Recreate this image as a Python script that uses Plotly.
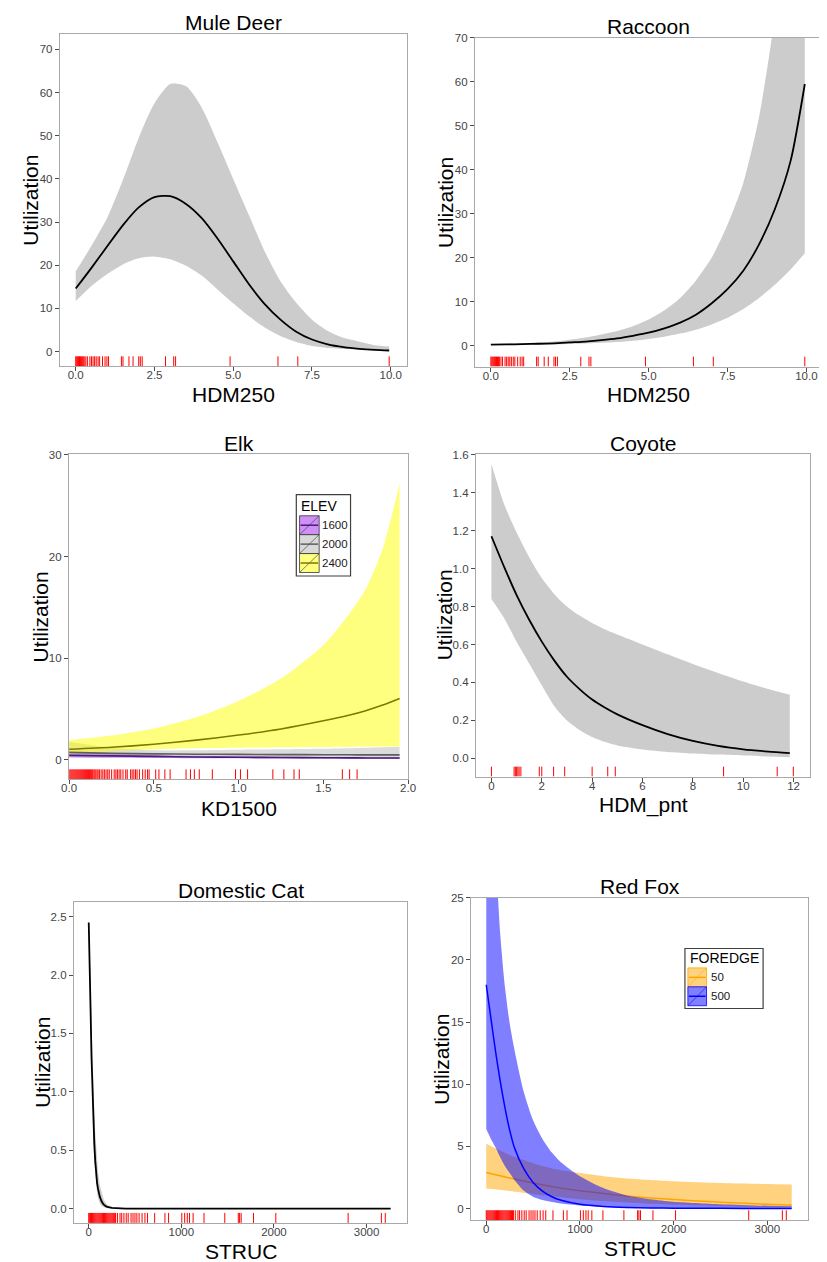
import plotly.graph_objects as go

W, H = 827, 1262
FONT = "Liberation Sans, Arial, sans-serif"

# ---------------- data ----------------
# Mule Deer (HDM250)
deer_x = [0.0, 0.5, 1.0, 1.5, 2.0, 2.5, 3.0, 3.5, 4.0, 4.5, 5.0, 5.5, 6.0, 6.5, 7.0, 7.5, 8.0, 8.5, 9.0, 9.5, 9.95]
deer_mean = [14.6, 19.4, 24.4, 29.3, 33.4, 35.8, 36.0, 34.2, 30.9, 26.2, 20.9, 15.6, 11.0, 7.4, 4.6, 2.8, 1.7, 1.05, 0.65, 0.4, 0.25]
deer_upper = [18.6, 24.5, 31.0, 39.8, 49.5, 57.5, 62.0, 61.5, 56.5, 48.5, 40.0, 31.6, 23.2, 16.3, 11.3, 7.4, 4.8, 3.2, 2.3, 1.5, 1.2]
deer_lower = [11.7, 15.2, 18.0, 20.2, 21.6, 22.0, 21.4, 19.9, 17.6, 14.4, 11.2, 8.2, 5.6, 3.6, 2.2, 1.3, 0.85, 0.6, 0.45, 0.35, 0.3]

# Raccoon (HDM250)
racc_x = [0.0, 0.5, 1.0, 1.5, 2.0, 2.5, 3.0, 3.5, 4.0, 4.5, 5.0, 5.5, 6.0, 6.5, 7.0, 7.5, 8.0, 8.5, 9.0, 9.5, 9.95]
racc_mean = [0.2, 0.25, 0.3, 0.4, 0.5, 0.7, 0.9, 1.2, 1.6, 2.2, 2.9, 3.9, 5.2, 7.0, 9.6, 12.8, 17.0, 23.0, 31.0, 42.0, 59.5]
racc_upper = [0.35, 0.4, 0.5, 0.65, 0.9, 1.3, 1.8, 2.5, 3.3, 4.4, 5.9, 8.0, 10.8, 14.8, 20.0, 27.5, 37.0, 52.0, 75.0, 110.0, 165.0]
racc_lower = [0.1, 0.12, 0.15, 0.2, 0.25, 0.35, 0.45, 0.6, 0.8, 1.1, 1.5, 2.0, 2.7, 3.6, 4.8, 6.3, 8.3, 10.8, 13.8, 17.3, 21.0]

hdm250_rug = [0.0, 0.03, 0.06, 0.09, 0.12, 0.15, 0.18, 0.21, 0.24, 0.27, 0.32, 0.37, 0.45, 0.50,
              0.55, 0.60, 0.65, 0.71, 0.76, 0.85, 0.93, 0.99, 1.04, 1.45, 1.50, 1.69, 1.82,
              2.00, 2.05, 2.11, 2.85, 3.11, 3.17, 4.90, 6.42, 7.05, 9.95]

# Elk (KD1500) by ELEV
elk_levels = ["1600", "2000", "2400"]
elk_x = [0.0, 0.25, 0.5, 0.75, 1.0, 1.25, 1.5, 1.65, 1.75, 1.85, 1.95]
elk1600_mean = [0.45, 0.4, 0.35, 0.3, 0.27, 0.24, 0.22, 0.21, 0.2, 0.2, 0.19]
elk1600_upper = [0.7, 0.6, 0.5, 0.42, 0.37, 0.33, 0.3, 0.29, 0.28, 0.27, 0.27]
elk1600_lower = [0.25, 0.22, 0.2, 0.18, 0.16, 0.14, 0.13, 0.12, 0.12, 0.11, 0.1]
elk2000_mean = [0.75, 0.65, 0.6, 0.57, 0.55, 0.53, 0.52, 0.51, 0.5, 0.5, 0.5]
elk2000_upper = [1.8, 1.2, 0.95, 0.95, 1.0, 1.05, 1.1, 1.15, 1.2, 1.25, 1.3]
elk2000_lower = [0.3, 0.3, 0.28, 0.26, 0.25, 0.24, 0.23, 0.22, 0.22, 0.21, 0.2]
elk2400_mean = [1.05, 1.25, 1.55, 1.95, 2.45, 3.05, 3.85, 4.4, 4.85, 5.4, 6.05]
elk2400_upper = [1.95, 2.4, 3.1, 4.2, 5.8, 8.0, 11.3, 14.3, 16.8, 20.8, 27.2]
elk2400_lower = [0.6, 0.85, 1.05, 1.15, 1.2, 1.25, 1.28, 1.3, 1.32, 1.33, 1.35]

kd1500_rug = [0.0, 0.006, 0.012, 0.018, 0.024, 0.03, 0.036, 0.042, 0.048, 0.054, 0.06, 0.066,
              0.072, 0.078, 0.084, 0.09, 0.096, 0.102, 0.108, 0.114, 0.12, 0.127, 0.133, 0.139,
              0.146, 0.152, 0.158, 0.165, 0.171, 0.179, 0.189, 0.199, 0.208, 0.218, 0.228, 0.237,
              0.251, 0.266, 0.276, 0.285, 0.295, 0.305, 0.318, 0.334, 0.343, 0.363, 0.372, 0.382,
              0.392, 0.401, 0.415, 0.434, 0.449, 0.463, 0.472, 0.511, 0.530, 0.565, 0.596, 0.690,
              0.716, 0.739, 0.768, 0.845, 0.982, 1.011, 1.053, 1.202, 1.267, 1.327, 1.358, 1.612,
              1.655, 1.699]

# Coyote (HDM_pnt)
coy_x = [0.0, 0.5, 1.0, 1.5, 2.0, 2.5, 3.0, 3.5, 4.0, 4.5, 5.0, 6.0, 7.0, 8.0, 9.0, 10.0, 11.0, 11.85]
coy_mean = [1.17, 1.01, 0.86, 0.73, 0.615, 0.515, 0.43, 0.365, 0.31, 0.268, 0.232, 0.175, 0.128, 0.092, 0.066, 0.048, 0.036, 0.028]
coy_upper = [1.55, 1.34, 1.19, 1.06, 0.95, 0.865, 0.80, 0.752, 0.713, 0.68, 0.652, 0.600, 0.548, 0.497, 0.450, 0.405, 0.365, 0.335]
coy_lower = [0.84, 0.74, 0.615, 0.50, 0.385, 0.275, 0.20, 0.15, 0.113, 0.087, 0.068, 0.047, 0.034, 0.026, 0.02, 0.015, 0.01, 0.006]
hdmpnt_rug = [0.0, 0.9, 0.95, 1.0, 1.05, 1.1, 1.17, 1.9, 2.0, 2.47, 2.91, 4.0, 4.62, 4.92, 9.22, 11.35, 11.99]

# Domestic Cat (STRUC)
cat_x = [0, 10, 20, 30, 40, 50, 60, 70, 80, 90, 100, 120, 140, 160, 180, 200, 250, 300, 400, 3260]
cat_mean = [2.45, 2.15, 1.70, 1.30, 1.00, 0.76, 0.56, 0.41, 0.30, 0.22, 0.17, 0.10, 0.06, 0.035, 0.022, 0.014, 0.005, 0.002, 0.0, 0.0]
cat_upper = [2.5, 2.3, 1.95, 1.6, 1.3, 1.05, 0.84, 0.66, 0.52, 0.41, 0.32, 0.2, 0.125, 0.08, 0.05, 0.032, 0.012, 0.005, 0.001, 0.0]
cat_lower = [2.4, 2.0, 1.5, 1.1, 0.8, 0.57, 0.4, 0.28, 0.19, 0.13, 0.09, 0.045, 0.022, 0.011, 0.006, 0.003, 0.001, 0.0, 0.0, 0.0]

struc_rug = [0, 10, 20, 30, 40, 50, 60, 70, 80, 90, 100, 110, 120, 130, 140, 150, 160, 170, 180,
             190, 200, 210, 220, 230, 240, 250, 260, 270, 280, 290, 310, 338, 356, 380, 405, 426,
             457, 478, 499, 520, 544, 576, 607, 635, 712, 823, 862, 1005, 1036, 1064, 1088, 1127,
             1245, 1469, 1615, 1629, 1646, 1779, 2020, 2801, 3160, 3202]

# Red Fox (STRUC) by FOREDGE
fox_levels = ["50", "500"]
fox50_x = [0, 250, 500, 750, 1000, 1250, 1500, 1750, 2000, 2250, 2500, 2750, 3000, 3260]
fox50_mean = [2.9, 2.45, 2.05, 1.7, 1.42, 1.2, 1.0, 0.85, 0.72, 0.61, 0.51, 0.42, 0.34, 0.27]
fox50_upper = [5.2, 4.3, 3.65, 3.15, 2.85, 2.6, 2.42, 2.3, 2.2, 2.12, 2.06, 2.01, 1.97, 1.93]
fox50_lower = [1.6, 1.4, 1.15, 0.95, 0.75, 0.6, 0.48, 0.38, 0.3, 0.24, 0.19, 0.15, 0.12, 0.1]
fox500_x = [0, 50, 100, 150, 200, 250, 300, 400, 500, 600, 700, 800, 1000, 1250, 1500, 1750, 2000, 2500, 3000, 3260]
fox500_mean = [18.0, 15.3, 12.6, 10.2, 8.1, 6.3, 4.9, 3.2, 2.1, 1.4, 0.95, 0.66, 0.34, 0.17, 0.09, 0.05, 0.03, 0.012, 0.006, 0.005]
fox500_upper = [45.0, 36.0, 28.5, 22.0, 17.8, 14.9, 12.8, 9.4, 7.1, 5.6, 4.5, 3.7, 2.6, 1.65, 1.05, 0.75, 0.55, 0.35, 0.22, 0.18]
fox500_lower = [6.4, 5.6, 4.9, 4.1, 3.4, 2.85, 2.3, 1.45, 0.95, 0.68, 0.52, 0.4, 0.25, 0.12, 0.06, 0.03, 0.02, 0.01, 0.005, 0.004]

# tick labels
ticks_hdm250 = [0, 2.5, 5, 7.5, 10]
labels_hdm250 = ["0.0", "2.5", "5.0", "7.5", "10.0"]
ticks_util70 = [0, 10, 20, 30, 40, 50, 60, 70]
ticks_kd = [0, 0.5, 1.0, 1.5, 2.0]
labels_kd = ["0.0", "0.5", "1.0", "1.5", "2.0"]
ticks_util30 = [0, 10, 20, 30]
ticks_pnt = [0, 2, 4, 6, 8, 10, 12]
ticks_coy_y = [0, 0.2, 0.4, 0.6, 0.8, 1.0, 1.2, 1.4, 1.6]
labels_coy_y = ["0.0", "0.2", "0.4", "0.6", "0.8", "1.0", "1.2", "1.4", "1.6"]
ticks_struc = [0, 1000, 2000, 3000]
ticks_cat_y = [0, 0.5, 1.0, 1.5, 2.0, 2.5]
labels_cat_y = ["0.0", "0.5", "1.0", "1.5", "2.0", "2.5"]
ticks_fox_y = [0, 5, 10, 15, 20, 25]

# ---------------- layout helpers ----------------
panels = {
    1: dict(px=(53, 407), py=(28, 362), xr=[-0.5, 10.52], yr=[-3.4, 73.6],
            xt=(ticks_hdm250, labels_hdm250), yt=(ticks_util70, [str(v) for v in ticks_util70]),
            title="Mule Deer", ty=17, xlabel="HDM250", xly=390.7, ylx=23, mirror_y=True),
    2: dict(px=(476.3, 827), py=(32, 362.3), xr=[-0.5, 10.40], yr=[-4.8, 70],
            xt=(ticks_hdm250, labels_hdm250), yt=(ticks_util70, [str(v) for v in ticks_util70]),
            title="Raccoon", ty=21, xlabel="HDM250", xly=390.7, ylx=446.3, mirror_y=False, tcx=653),
    3: dict(px=(62.3, 408), py=(450.3, 777), xr=[0, 2], yr=[-1.9, 30.07],
            xt=(ticks_kd, labels_kd), yt=(ticks_util30, [str(v) for v in ticks_util30]),
            title="Elk", ty=440, xlabel="KD1500", xly=806.7, ylx=33.3, mirror_y=True),
    4: dict(px=(477.3, 818), py=(450, 774.3), xr=[-0.61, 12.66], yr=[-0.096, 1.604],
            xt=(ticks_pnt, [str(v) for v in ticks_pnt]), yt=(ticks_coy_y, labels_coy_y),
            title="Coyote", ty=440, xlabel="HDM_pnt", xly=803, ylx=444.7, mirror_y=True),
    5: dict(px=(67.3, 407), py=(900, 1222.7), xr=[-159, 3438], yr=[-0.123, 2.628],
            xt=(ticks_struc, [str(v) for v in ticks_struc]), yt=(ticks_cat_y, labels_cat_y),
            title="Domestic Cat", ty=889, xlabel="STRUC", xly=1251.7, ylx=35, mirror_y=True),
    6: dict(px=(472.3, 816), py=(896, 1220), xr=[-161, 3436], yr=[-0.94, 25.0],
            xt=(ticks_struc, [str(v) for v in ticks_struc]), yt=(ticks_fox_y, [str(v) for v in ticks_fox_y]),
            title="Red Fox", ty=885, xlabel="STRUC", xly=1248.3, ylx=442.3, mirror_y=True),
}

fig = go.Figure()


def axn(k):
    return ("x" if k == 1 else f"x{k}", "y" if k == 1 else f"y{k}")


def add_band(k, x, lo, hi, fill, shape="spline"):
    xa, ya = axn(k)
    fig.add_trace(go.Scatter(x=x, y=lo, mode="lines", line=dict(width=0, shape=shape, smoothing=0.7),
                             hoverinfo="skip", showlegend=False, xaxis=xa, yaxis=ya))
    fig.add_trace(go.Scatter(x=x, y=hi, mode="lines", line=dict(width=0, shape=shape, smoothing=0.7),
                             fill="tonexty", fillcolor=fill, hoverinfo="skip", showlegend=False,
                             xaxis=xa, yaxis=ya))


def add_line(k, x, y, color, width=1.8, shape="spline"):
    xa, ya = axn(k)
    fig.add_trace(go.Scatter(x=x, y=y, mode="lines", line=dict(color=color, width=width, shape=shape, smoothing=0.7),
                             showlegend=False, xaxis=xa, yaxis=ya))


def add_rug(k, xs, length_px=10):
    xa, ya = axn(k)
    p = panels[k]
    yr = p["yr"]
    hpx = p["py"][1] - p["py"][0]
    y0 = yr[0]
    y1 = y0 + (yr[1] - yr[0]) * length_px / hpx
    xx, yy = [], []
    for v in xs:
        xx += [v, v, None]
        yy += [y0, y1, None]
    fig.add_trace(go.Scatter(x=xx, y=yy, mode="lines", line=dict(color="#FF0000", width=1),
                             hoverinfo="skip", showlegend=False, xaxis=xa, yaxis=ya))


GREY_FILL = "rgba(204,204,204,1)"

# Panel 1: Mule Deer
add_band(1, deer_x, deer_lower, deer_upper, GREY_FILL)
add_line(1, deer_x, deer_mean, "#000000")
add_rug(1, hdm250_rug)

# Panel 2: Raccoon
add_band(2, racc_x, racc_lower, racc_upper, GREY_FILL)
add_line(2, racc_x, racc_mean, "#000000")
add_rug(2, hdm250_rug)

# Panel 3: Elk
elk_fill = ["rgba(160,32,240,0.5)", "rgba(195,195,195,0.6)", "rgba(255,255,0,0.5)"]
elk_line = ["#4B1A7A", "#5E5E5E", "#7A7A00"]
elk_bands = [(elk1600_lower, elk1600_upper), (elk2000_lower, elk2000_upper), (elk2400_lower, elk2400_upper)]
elk_means = [elk1600_mean, elk2000_mean, elk2400_mean]
for (lo, hi), f in zip(elk_bands, elk_fill):
    add_band(3, elk_x, lo, hi, f)
for m, c in zip(elk_means, elk_line):
    add_line(3, elk_x, m, c, width=1.6)
add_rug(3, kd1500_rug)

# Panel 4: Coyote
add_band(4, coy_x, coy_lower, coy_upper, GREY_FILL)
add_line(4, coy_x, coy_mean, "#000000")
add_rug(4, hdmpnt_rug)

# Panel 5: Domestic Cat
add_band(5, cat_x, cat_lower, cat_upper, GREY_FILL, shape="linear")
add_line(5, cat_x, cat_mean, "#000000", shape="linear")
add_rug(5, struc_rug)

# Panel 6: Red Fox
fox_fill = ["rgba(255,165,0,0.5)", "rgba(0,0,255,0.5)"]
fox_line = ["#FFA500", "#0000FF"]
add_band(6, fox50_x, fox50_lower, fox50_upper, fox_fill[0])
add_line(6, fox50_x, fox50_mean, fox_line[0], width=1.5)
add_band(6, fox500_x, fox500_lower, fox500_upper, fox_fill[1])
add_line(6, fox500_x, fox500_mean, fox_line[1], width=1.5)
add_rug(6, struc_rug)

# ---------------- axes ----------------
layout = dict(width=W, height=H, margin=dict(l=0, r=0, t=0, b=0),
              paper_bgcolor="white", plot_bgcolor="white", showlegend=False,
              font=dict(family=FONT, color="#000000"))

annotations = []
shapes = []


def X(p):
    return p / W


def Y(p):
    return 1 - p / H


for k, p in panels.items():
    xa = "xaxis" if k == 1 else f"xaxis{k}"
    ya = "yaxis" if k == 1 else f"yaxis{k}"
    xd = [X(p["px"][0]), min(X(p["px"][1]), 1.0)]
    yd = [Y(p["py"][1]), Y(p["py"][0])]
    common = dict(showgrid=False, zeroline=False, showline=True, linecolor="#A9A9A9", linewidth=1.3,
                  ticks="outside", ticklen=4, tickwidth=1, tickcolor="#4D4D4D",
                  tickfont=dict(size=11.5, color="#444444", family=FONT), fixedrange=True)
    layout[xa] = dict(domain=xd, range=p["xr"], anchor=axn(k)[1], tickmode="array",
                      tickvals=p["xt"][0], ticktext=p["xt"][1], mirror=True,
                      ticklabelstandoff=-6, **common)
    layout[ya] = dict(domain=yd, range=p["yr"], anchor=axn(k)[0], tickmode="array",
                      tickvals=p["yt"][0], ticktext=p["yt"][1], mirror=p["mirror_y"], **common)
    cx = p.get("tcx", (p["px"][0] + p["px"][1]) / 2)
    cy = (p["py"][0] + p["py"][1]) / 2
    annotations.append(dict(text=p["title"], x=X(cx), y=Y(p["ty"]), xref="paper", yref="paper",
                            showarrow=False, xanchor="center", yanchor="middle",
                            font=dict(size=21, color="#000000", family=FONT)))
    annotations.append(dict(text=p["xlabel"], x=X(cx), y=Y(p["xly"]), xref="paper", yref="paper",
                            showarrow=False, xanchor="center", yanchor="middle",
                            font=dict(size=21, color="#000000", family=FONT)))
    annotations.append(dict(text="Utilization", x=X(p["ylx"]), y=Y(cy), xref="paper", yref="paper",
                            showarrow=False, xanchor="center", yanchor="middle", textangle=-90,
                            font=dict(size=21, color="#000000", family=FONT)))


# ---------------- manual legends ----------------
def legend_box(x0, y0, x1, y1, title, tx, ty, keys, kx0, kx1, row_c, row_h, lab_x, fills, lines, borders, diag):
    shapes.append(dict(type="rect", xref="paper", yref="paper", x0=X(x0), x1=X(x1), y0=Y(y1), y1=Y(y0),
                       line=dict(color="#404040", width=1.2), fillcolor="white", layer="above"))
    annotations.append(dict(text=title, x=X(tx), y=Y(ty), xref="paper", yref="paper", showarrow=False,
                            xanchor="left", yanchor="middle", font=dict(size=14, color="#000000", family=FONT)))
    for i, lab in enumerate(keys):
        yc = row_c + i * row_h
        t, b = yc - row_h / 2, yc + row_h / 2
        shapes.append(dict(type="rect", xref="paper", yref="paper", x0=X(kx0), x1=X(kx1), y0=Y(b), y1=Y(t),
                           line=dict(color=borders[i], width=0.8), fillcolor=fills[i], layer="above"))
        shapes.append(dict(type="line", xref="paper", yref="paper", x0=X(kx0), x1=X(kx1), y0=Y(b), y1=Y(t),
                           line=dict(color=diag[i], width=0.6), layer="above"))
        shapes.append(dict(type="line", xref="paper", yref="paper", x0=X(kx0 + 1), x1=X(kx1 - 1), y0=Y(yc), y1=Y(yc),
                           line=dict(color=lines[i], width=1.5), layer="above"))
        annotations.append(dict(text=lab, x=X(lab_x), y=Y(yc), xref="paper", yref="paper", showarrow=False,
                                xanchor="left", yanchor="middle", font=dict(size=11.5, color="#1A1A1A", family=FONT)))


legend_box(294, 491, 349.3, 572.7, "ELEV", 296.5, 502.7, elk_levels, 297.3, 317.3, 521.7, 19, 318.3,
           ["rgb(207,143,247)", "rgb(217,217,217)", "rgb(255,255,128)"], elk_line,
           ["#333333", "#333333", "#333333"], ["#333333", "#333333", "#333333"])
legend_box(690.3, 947, 770, 1007.3, "FOREDGE", 693.5, 956.7, fox_levels, 693.3, 712.3, 976, 19, 714.5,
           ["rgb(255,210,128)", "rgb(128,128,255)"], fox_line, fox_line, fox_line)

layout["annotations"] = annotations
layout["shapes"] = shapes
fig.update_layout(**layout)

fig.write_html("out.html", include_plotlyjs=True, config={"displayModeBar": False})
